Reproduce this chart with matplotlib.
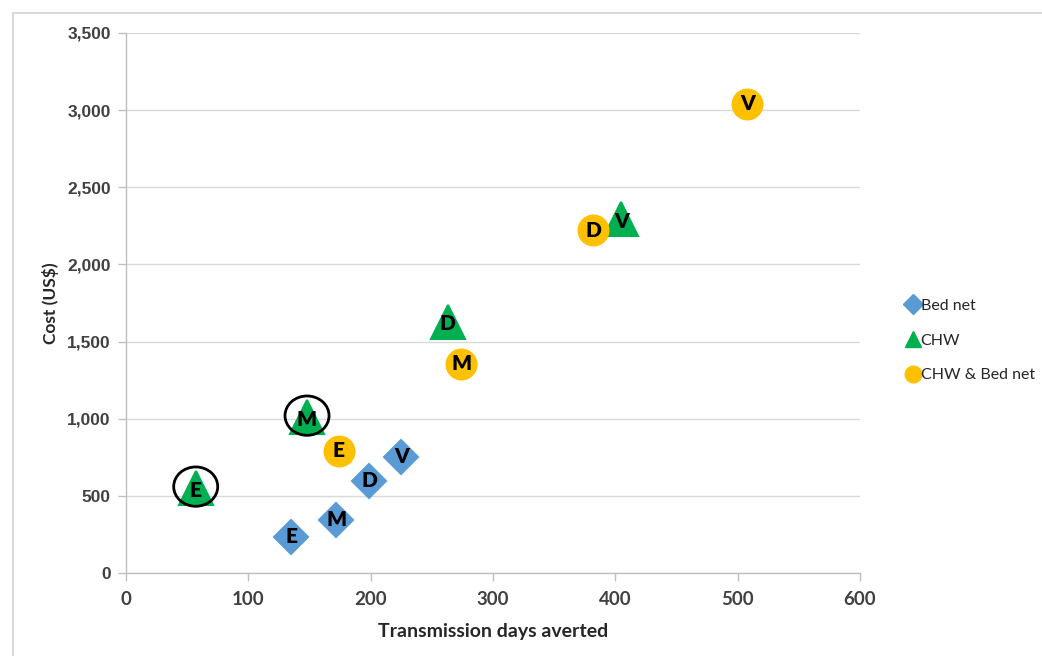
import matplotlib
matplotlib.use('Agg')
import matplotlib.pyplot as plt
from matplotlib.patches import Ellipse
from matplotlib.ticker import FuncFormatter, MultipleLocator
from matplotlib.lines import Line2D

# scenario labels and results per intervention
bednet_lbl = ['E', 'M', 'D', 'V']
bednet_x = [135, 172, 199, 225]
bednet_y = [235, 345, 597, 752]

chw_lbl = ['E', 'M', 'D', 'V']
chw_x = [57, 148, 263, 405]
chw_y = [550, 1010, 1630, 2295]

both_lbl = ['E', 'M', 'D', 'V']
both_x = [174, 274, 382, 508]
both_y = [791, 1355, 2220, 3040]

circled = ['E', 'M']   # CHW scenarios marked with an ellipse

BLUE = '#5B9BD5'
GREEN = '#00B050'
GOLD = '#FFC000'

plt.rcParams['font.family'] = ['Lato', 'DejaVu Sans']

fig = plt.figure(figsize=(10.42, 6.56), dpi=100)
ax = fig.add_axes([0.1209, 0.1265, 0.7044, 0.8232])

series = [
    ('Bed net', bednet_x, bednet_y, bednet_lbl, 'D', 17.5, BLUE),
    ('CHW', chw_x, chw_y, chw_lbl, '^', 24, GREEN),
    ('CHW & Bed net', both_x, both_y, both_lbl, 'o', 21.5, GOLD),
]
for name, xs, ys, lbls, mk, ms, col in series:
    ax.plot(xs, ys, linestyle='none', marker=mk, markersize=ms, color=col,
            markeredgecolor=col, markeredgewidth=1.5, zorder=3,
            solid_joinstyle='round')
    for x, y, t in zip(xs, ys, lbls):
        dy = -15 if mk == '^' else 0
        ax.text(x, y + dy, t, ha='center', va='center', fontsize=15,
                fontweight='heavy', color='black', zorder=4)

for x, y, t in zip(chw_x, chw_y, chw_lbl):
    if t in circled:
        ax.add_patch(Ellipse((x, y + 10), 36, 255, fill=False,
                             edgecolor='black', linewidth=2, zorder=5))

ax.set_xlim(0, 600)
ax.set_ylim(0, 3500)
ax.xaxis.set_major_locator(MultipleLocator(100))
ax.yaxis.set_major_locator(MultipleLocator(500))
ax.yaxis.set_major_formatter(FuncFormatter(lambda v, p: f'{int(v):,}'))

ax.grid(axis='y', color='#D9D9D9', linewidth=1)
ax.set_axisbelow(True)
for s in ['top', 'right']:
    ax.spines[s].set_visible(False)
for s in ['left', 'bottom']:
    ax.spines[s].set_color('#BFBFBF')
    ax.spines[s].set_linewidth(1)
ax.tick_params(axis='both', direction='out', length=6, color='#BFBFBF',
               colors='#404040', width=1)
ax.tick_params(axis='x', labelsize=13.5, pad=7)
ax.tick_params(axis='y', labelsize=12.5, pad=5)
for lab in ax.get_xticklabels():
    lab.set_fontweight('bold')
for lab in ax.get_yticklabels():
    lab.set_fontfamily(['Liberation Sans', 'DejaVu Sans'])
    lab.set_fontweight('bold')

ax.set_xlabel('Transmission days averted', fontsize=14, fontweight='bold',
              color='#262626', labelpad=11)
ax.set_ylabel('Cost (US$)', fontsize=12.5, fontweight='bold',
              color='#262626', labelpad=6)

handles = [
    Line2D([], [], linestyle='none', marker='D', markersize=10, color=BLUE),
    Line2D([], [], linestyle='none', marker='^', markersize=12, color=GREEN),
    Line2D([], [], linestyle='none', marker='o', markersize=12, color=GOLD),
]
leg = fig.legend(handles, [s[0] for s in series], loc='center left',
                 bbox_to_anchor=(0.856, 0.481), frameon=False,
                 handlelength=0.8, handletextpad=0.1, labelspacing=1.3,
                 prop={'size': 11.5})
for t in leg.get_texts():
    t.set_color('#262626')

# light frame along the top and left of the chart area
fig.add_artist(Line2D([13 / 1042, 13 / 1042], [0, 1 - 13 / 656],
                      transform=fig.transFigure, color='#D9D9D9', linewidth=1.5))
fig.add_artist(Line2D([13 / 1042, 1], [1 - 13 / 656, 1 - 13 / 656],
                      transform=fig.transFigure, color='#D9D9D9', linewidth=1.5))

fig.savefig('out.png', dpi=100)
